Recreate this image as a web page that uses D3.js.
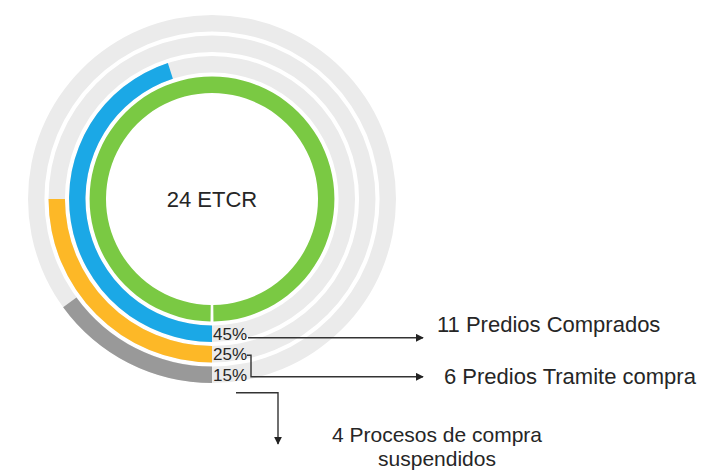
<!DOCTYPE html>
<html>
<head>
<meta charset="utf-8">
<script src="https://cdn.jsdelivr.net/npm/d3@7"></script>
<style>
  body { margin: 0; background: #fff; }
  text { font-family: "Liberation Sans", Arial, sans-serif; fill: #262626; }
</style>
</head>
<body>
<script>
const centerLabel = "24 ETCR";
const rings = ["total", "comprados", "tramite", "suspendidos"];
const ringValues = [100, 45, 25, 15];
const ringColors = ["#7ac943", "#1ba8e6", "#fdb827", "#999999"];
const percentLabels = ["45%", "25%", "15%"];
const calloutLabels = [["11 Predios Comprados"], ["6 Predios Tramite compra"], ["4 Procesos de compra", "suspendidos"]];

const width = 706, height = 472;
const cx = 212, cy = 199;

const svg = d3.select("body").append("svg")
  .attr("width", width)
  .attr("height", height);

svg.append("defs").append("marker")
  .attr("id", "arrow")
  .attr("viewBox", "0 0 10 10")
  .attr("refX", 9).attr("refY", 5)
  .attr("markerWidth", 8).attr("markerHeight", 8)
  .attr("markerUnits", "userSpaceOnUse")
  .attr("orient", "auto")
  .append("path")
  .attr("d", "M0,0L10,5L0,10Z")
  .attr("fill", "#222");

const angle = d3.scaleLinear().domain([0, 100]).range([0, 2 * Math.PI]);
const radius = d3.scaleBand().domain(rings).range([106, 184]).paddingInner(0.2);

const g = svg.append("g").attr("transform", `translate(${cx},${cy})`);

const arc = d3.arc()
  .innerRadius(d => radius(d.key))
  .outerRadius(d => radius(d.key) + radius.bandwidth());

// light tracks behind the partial rings
g.selectAll("path.track")
  .data(rings.slice(1).map(k => ({ key: k, startAngle: 0, endAngle: 2 * Math.PI })))
  .enter().append("path")
  .attr("class", "track")
  .attr("d", arc)
  .attr("fill", "#ebebeb");

const gap = 0.012;
g.selectAll("path.value")
  .data(rings.map((k, i) => ({
    key: k,
    startAngle: Math.PI + (i === 0 ? gap : 0),
    endAngle: Math.PI + angle(ringValues[i]) - (i === 0 ? gap : 0)
  })))
  .enter().append("path")
  .attr("class", "value")
  .attr("d", arc)
  .attr("fill", (d, i) => ringColors[i]);

g.append("text")
  .attr("text-anchor", "middle")
  .attr("dy", "0.35em")
  .attr("font-size", 22)
  .text(centerLabel);

const midR = k => radius(k) + radius.bandwidth() / 2;

g.selectAll("text.pct")
  .data(percentLabels)
  .enter().append("text")
  .attr("class", "pct")
  .attr("x", 1)
  .attr("y", (d, i) => midR(rings[i + 1]))
  .attr("dy", "0.35em")
  .attr("font-size", 17)
  .text(d => d);

// callout lines
const y1 = cy + midR(rings[1]) + 4;
const y2 = cy + midR(rings[2]) + 1;
const y3 = cy + midR(rings[3]) + 2;

const line = d3.line();
const stroke = sel => sel.attr("fill", "none").attr("stroke", "#333").attr("stroke-width", 1.4);

svg.append("path")
  .attr("d", line([[248, y1], [423, y1]]))
  .call(stroke)
  .attr("marker-end", "url(#arrow)");

svg.append("path")
  .attr("d", line([[247, y2], [251, y2], [251, y3], [423, y3]]))
  .call(stroke)
  .attr("marker-end", "url(#arrow)");

svg.append("path")
  .attr("d", line([[236, y3 + 16], [278, y3 + 16], [278, 444]]))
  .call(stroke)
  .attr("marker-end", "url(#arrow)");

svg.append("text")
  .attr("x", 437).attr("y", 332)
  .attr("font-size", 22)
  .text(calloutLabels[0][0]);

svg.append("text")
  .attr("x", 444).attr("y", 384)
  .attr("font-size", 22)
  .text(calloutLabels[1][0]);

svg.selectAll("text.susp")
  .data(calloutLabels[2])
  .enter().append("text")
  .attr("class", "susp")
  .attr("text-anchor", "middle")
  .attr("font-size", 21)
  .attr("x", 437)
  .attr("y", (d, i) => 442 + i * 24)
  .text(d => d);
</script>
</body>
</html>
